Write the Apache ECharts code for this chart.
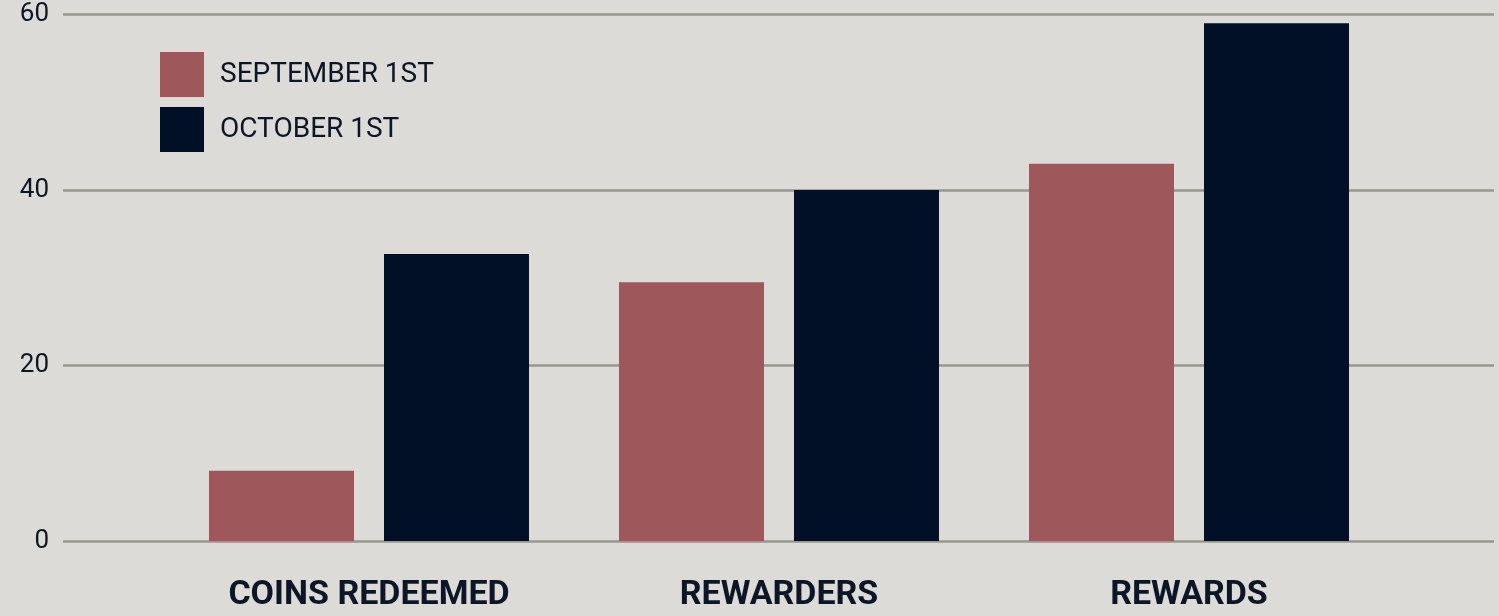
<!DOCTYPE html>
<html>
<head>
<meta charset="utf-8">
<script src="https://cdn.jsdelivr.net/npm/echarts@6/dist/echarts.min.js"></script>
<style>
html,body{margin:0;padding:0;background:#dcdbd7;}
#main{width:1499px;height:616px;}
</style>
</head>
<body>
<div id="main"></div>
<script>
var categories = ['COINS REDEEMED', 'REWARDERS', 'REWARDS'];
var september = [8, 29.5, 43];
var october = [32.7, 40, 59];
var seriesNames = ['SEPTEMBER 1ST', 'OCTOBER 1ST'];
var yTicks = { min: 0, max: 60, interval: 20 };

var chart = echarts.init(document.getElementById('main'), null, { renderer: 'canvas' });
var font = 'Roboto';
chart.setOption({
  backgroundColor: '#dcdbd7',
  animation: false,
  legend: {
    orient: 'vertical',
    left: 160,
    top: 52,
    padding: 0,
    itemWidth: 44,
    itemHeight: 45,
    itemGap: 10,
    icon: 'rect',
    data: seriesNames,
    textStyle: { fontFamily: font, fontSize: 28, color: '#0d1626', padding: [5, 0, 0, 11] }
  },
  grid: [
    { left: 63, right: 5, top: 14.5, bottom: 75 },
    { left: 164, right: 105, top: 14.5, bottom: 75 }
  ],
  xAxis: [
    { gridIndex: 0, type: 'value', show: false, min: 0, max: 1 },
    {
      gridIndex: 1, type: 'category', data: categories,
      axisLine: { show: false }, axisTick: { show: false },
      axisLabel: { fontFamily: font, fontWeight: 'bold', fontSize: 34, color: '#0d1626', margin: 37 }
    }
  ],
  yAxis: [
    {
      gridIndex: 0, type: 'value', min: yTicks.min, max: yTicks.max, interval: yTicks.interval,
      axisLine: { show: false }, axisTick: { show: false },
      splitLine: { lineStyle: { color: '#98968f', width: 2.5 } },
      axisLabel: { fontFamily: font, fontSize: 26, color: '#0d1626', margin: 14 }
    },
    {
      gridIndex: 1, type: 'value', min: yTicks.min, max: yTicks.max, interval: yTicks.interval,
      show: false
    }
  ],
  series: [
    {
      name: seriesNames[0], type: 'bar', xAxisIndex: 1, yAxisIndex: 1,
      data: september, barWidth: 145, barGap: '20.69%',
      itemStyle: { color: '#9e575a' }
    },
    {
      name: seriesNames[1], type: 'bar', xAxisIndex: 1, yAxisIndex: 1,
      data: october, barWidth: 145, barGap: '20.69%',
      itemStyle: { color: '#011027' }
    }
  ]
});
</script>
</body>
</html>
